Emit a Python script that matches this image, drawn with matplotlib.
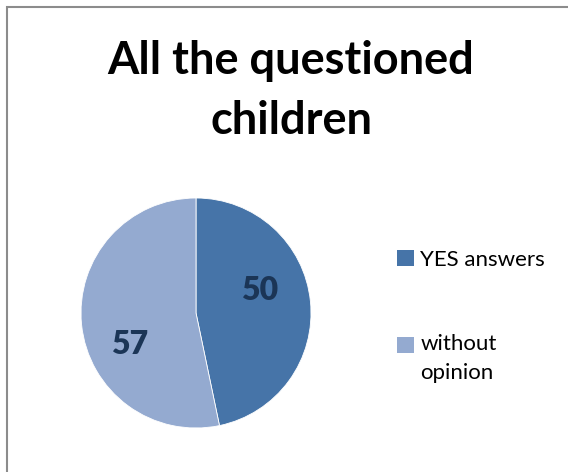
import matplotlib.pyplot as plt
from matplotlib.patches import Rectangle, Patch

# answers of the children
labels = ['YES answers', 'without\nopinion']
values = [50, 57]
colors = ['#4674A8', '#94AAD0']

W, H = 568, 472
fig = plt.figure(figsize=(W / 100, H / 100), dpi=100)
plt.rcParams['font.family'] = ['Lato', 'DejaVu Sans']

# grey frame round the chart area
fig.patches.append(Rectangle((7 / W, -0.1), 1.1, (H - 7) / H + 0.1,
                             transform=fig.transFigure, fill=False,
                             edgecolor='#8c8c8c', linewidth=1.5))

fig.text(291 / W, 1 - 91 / H, 'All the questioned\nchildren', ha='center', va='center',
         fontsize=32.5, fontweight='bold', linespacing=1.5)

# pie centre (196, 313), radius 115 px
cx, cy, r = 196, 313, 115
ax = fig.add_axes([(cx - r) / W, (H - cy - r) / H, 2 * r / W, 2 * r / H])
total = sum(values)
wedges, texts, autotexts = ax.pie(values, colors=colors, startangle=90, counterclock=False,
                                  autopct=lambda p: '%d' % round(p * total / 100),
                                  wedgeprops=dict(edgecolor='white', linewidth=0.6))
# value labels sit a bit off the wedge bisector
for t, pos in zip(autotexts, [(0.55, 0.20), (-0.58, -0.27)]):
    t.set_position(pos)
    t.set_fontsize(23)
    t.set_fontweight('heavy')
    t.set_color('#1B3556')
ax.set_xlim(-1, 1)
ax.set_ylim(-1, 1)
ax.set_aspect('auto')

handles = [Patch(facecolor=c, edgecolor='none') for c in colors]
leg = fig.legend(handles, labels, loc='upper left', bbox_to_anchor=(388 / W, 1 - 241 / H),
                 frameon=False, fontsize=16, handlelength=0.75, handleheight=0.75,
                 handletextpad=0.3, labelspacing=2.9, borderaxespad=0)
for t in leg.get_texts():
    t.set_linespacing(1.55)
# square of the two-line entry goes level with its first line
sq = leg.legend_handles[1]
sq.set_y(sq.get_y() + 10)

fig.savefig('out.png', dpi=100)
